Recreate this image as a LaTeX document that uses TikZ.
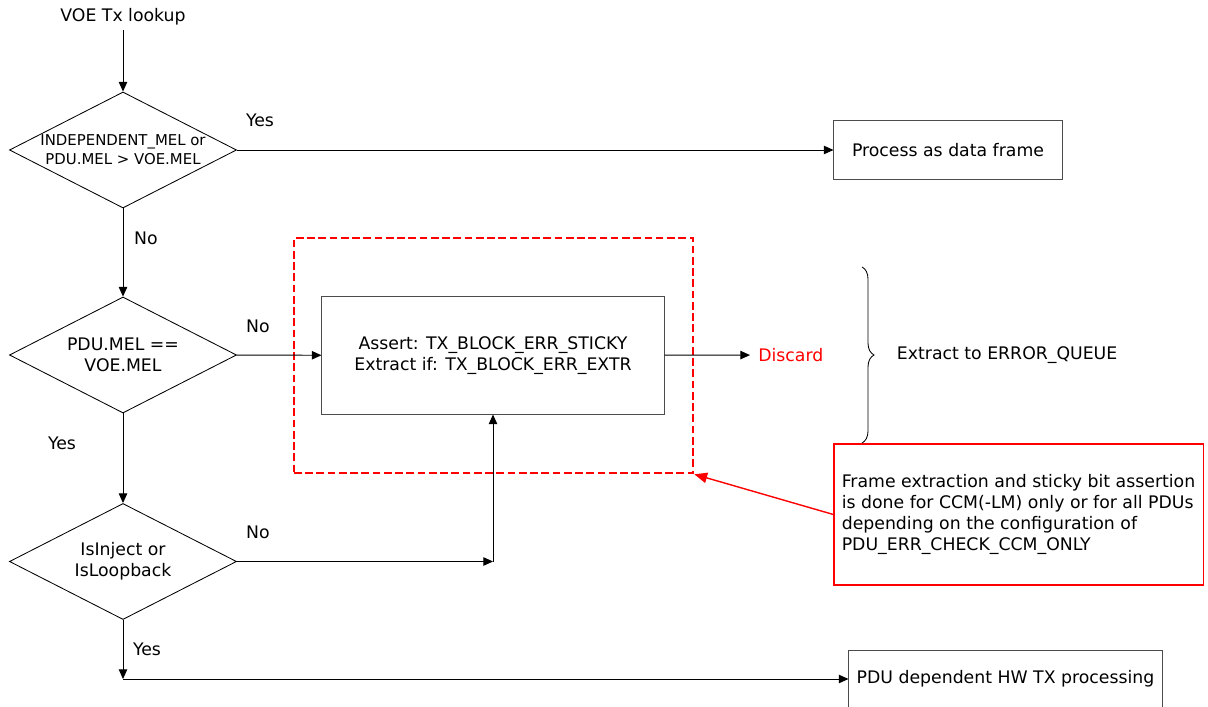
\documentclass[tikz,border=0pt]{standalone}
\usepackage{fontspec}
\setmainfont{DejaVu Sans}
\usetikzlibrary{arrows.meta, positioning, calc, shapes.geometric, decorations.pathreplacing}

\begin{document}
\begin{tikzpicture}[
    x=0.025cm, y=-0.025cm,
    font=\fontsize{12.3}{14.8}\selectfont,
    decision/.style={diamond, draw=black, line width=0.6pt, inner sep=0pt, minimum width=5.675cm, minimum height=2.9cm},
    dtext/.style={align=center, inner sep=0pt},
    process/.style={rectangle, draw=black!70, line width=0.7pt, align=center},
    note/.style={rectangle, draw=red, line width=0.8pt, text=black, minimum width=9.225cm, minimum height=3.525cm, align=left},
    group/.style={rectangle, draw=red, line width=1.8pt, dash pattern=on 5.5pt off 2.5pt, inner sep=0pt},
    edge/.style={-{Triangle[length=2.4mm, width=2.1mm]}, line width=0.7pt, draw=black},
    flag/.style={inner sep=1pt}
]
    \useasboundingbox (0,0) rectangle (1208,707);

    % Define Nodes
    \node (start) at (123,17) {VOE Tx lookup};
    \node[decision, label={[dtext, font=\fontsize{10.6}{13.6}\selectfont]center:INDEPENDENT\_MEL or\\PDU.MEL > VOE.MEL}] (d1) at (123,150) {};
    \node[process, minimum width=5.7cm, minimum height=1.45cm] (frame) at (948,150) {Process as data frame};
    \node[decision, label={[dtext]center:PDU.MEL ==\\VOE.MEL}] (d2) at (123,355) {};
    \node[process, minimum width=8.55cm, minimum height=2.925cm] (assert) at (493,355.5) {Assert: TX\_BLOCK\_ERR\_STICKY\\Extract if: TX\_BLOCK\_ERR\_EXTR};
    \node[group, minimum width=9.975cm, minimum height=5.875cm] (errbox) at (493.5,355.5) {};
    \node[text=red, anchor=west, inner sep=0.2cm] (discard) at (750,355) {Discard};
    \node[anchor=west] (queue) at (892,355) {Extract to ERROR\_QUEUE};
    \node[decision, label={[dtext]center:IsInject or\\IsLoopback}] (d3) at (123,561.5) {};
    \node[process, minimum width=7.825cm, minimum height=1.45cm] (hwtx) at (1005.5,679) {PDU dependent HW TX processing};
    \node[note, draw=red] (remark) at (1018.5,514.5) {Frame extraction and sticky bit assertion\\is done for CCM(-LM) only or for all PDUs\\depending on the configuration of\\PDU\_ERR\_CHECK\_CCM\_ONLY};

    % Yes / No flags
    \node[flag] (yes1) at (260,120) {Yes};
    \node[flag] (no1) at (146,238) {No};
    \node[flag] (no2) at (258,326) {No};
    \node[flag] (yes2) at (62,443) {Yes};
    \node[flag] (no3) at (258,532) {No};
    \node[flag] (yes3) at (147,649) {Yes};

    % Draw Edges
    \draw[edge] (start) -- (d1);
    \draw[edge] (d1) -- (frame);
    \draw[edge] (d1) -- (d2);
    \draw[edge] (d2) -- (assert);
    \draw[edge] (assert) -- (discard);
    \draw[edge] (d2) -- (d3);
    \coordinate (join) at (assert.south |- d3.east);
    \draw[edge] (d3) -- (join);
    \draw[edge] (join) -- (assert);
    \coordinate (merge) at (d3.south |- hwtx.west);
    \draw[edge] (d3) -- (merge);
    \draw[edge] (merge) -- (hwtx);
    \draw[edge, draw=red, line width=1pt, -{Triangle[length=3.2mm, width=2.6mm]}] (remark.west) -- (errbox.south east);

    % Brace
    \draw[line width=0.6pt, decorate, decoration={brace, amplitude=0.3cm}] (862,267) -- (862,443);
\end{tikzpicture}
\end{document}
